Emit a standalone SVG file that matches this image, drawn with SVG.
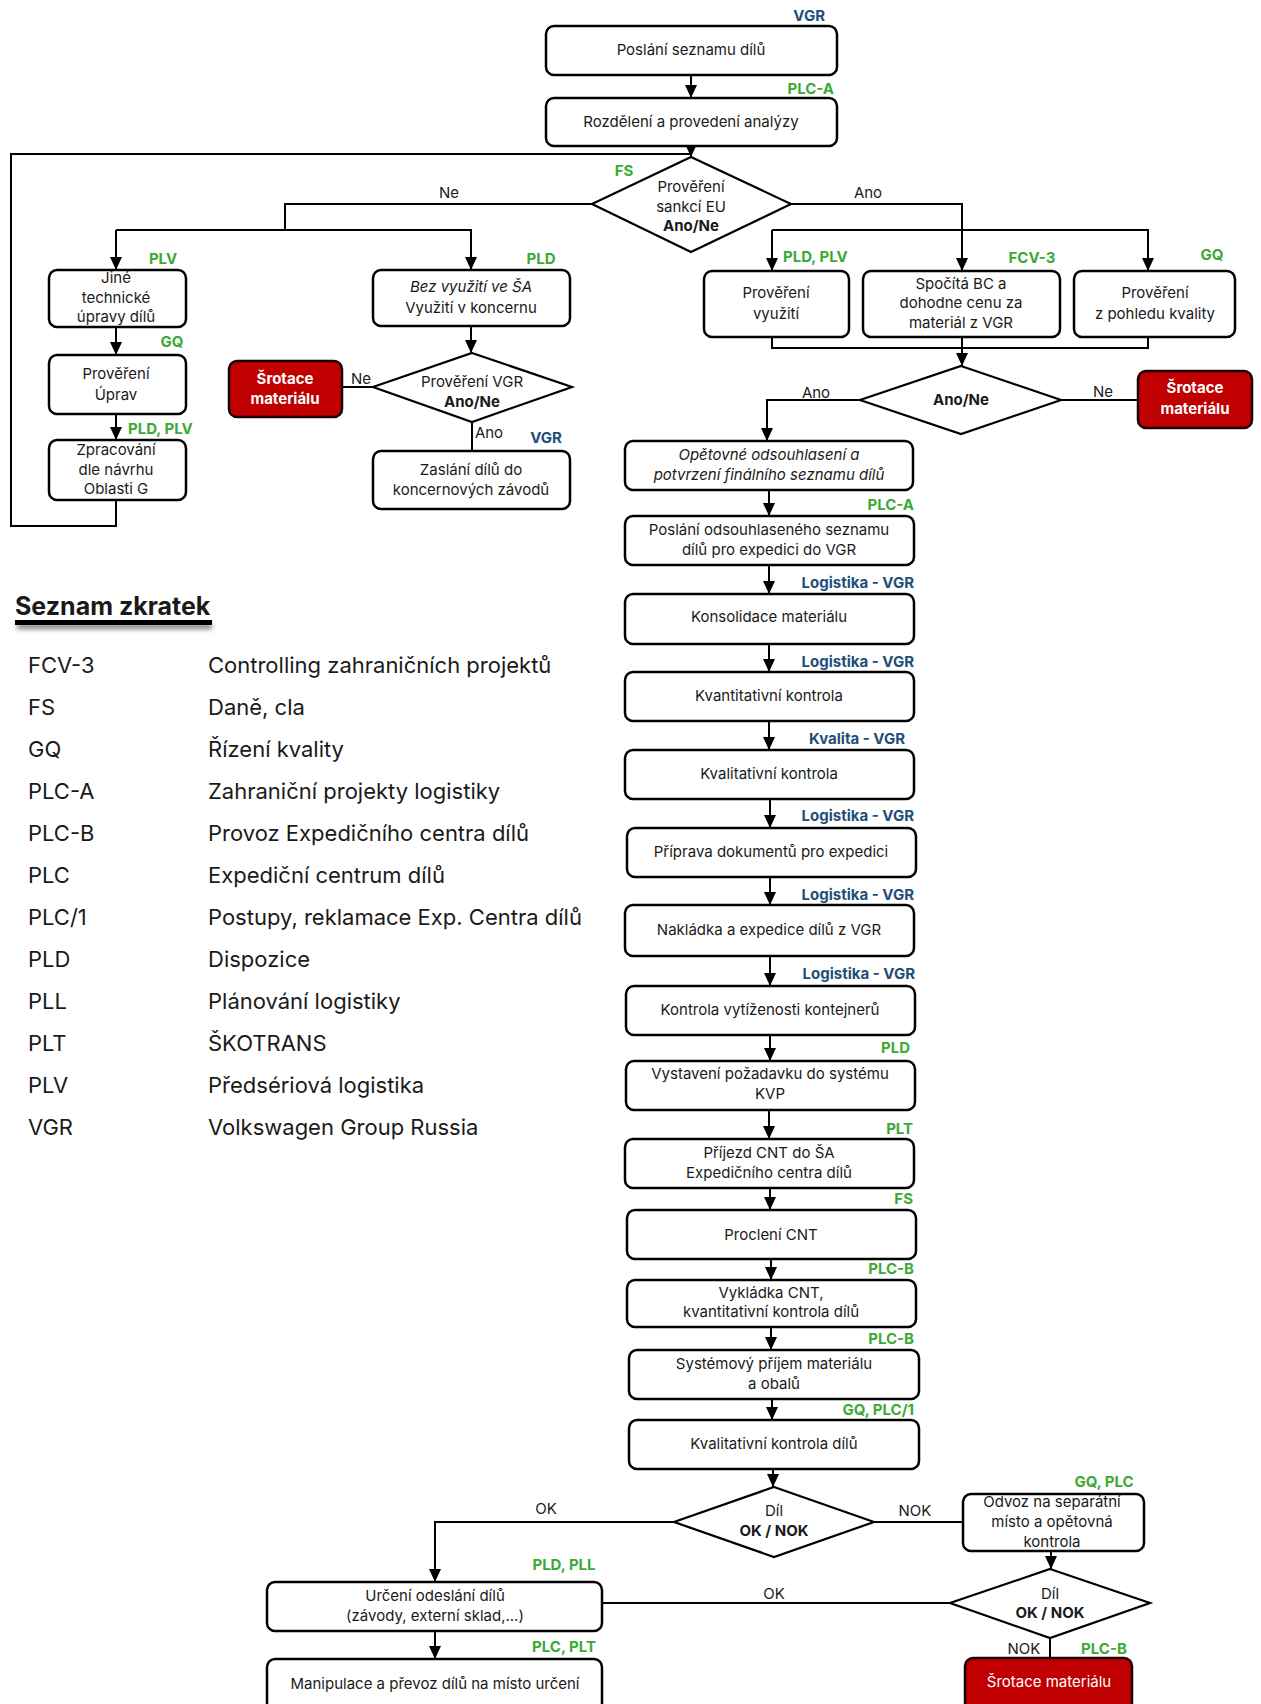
<svg xmlns="http://www.w3.org/2000/svg" width="1261" height="1704" viewBox="0 0 1261 1704">
<style>
text{font-family:Inter,Lato,"Liberation Sans",sans-serif;fill:#1a1a1a}
.t{font-size:15px;text-anchor:middle}
.i{font-style:italic}
.b{font-weight:bold}
.box{fill:#fff;stroke:#000;stroke-width:2.5}
.red{fill:#c00000;stroke:#1a0000;stroke-width:2.5}
.rt{font-size:15px;text-anchor:middle;fill:#fff;font-weight:bold}
.dia{fill:#fff;stroke:#000;stroke-width:2.2}
.g{font-size:15px;font-weight:bold;fill:#3aaa35}
.bl{font-size:15px;font-weight:bold;fill:#1f4e79}
.c{fill:none;stroke:#000;stroke-width:2}
.a{marker-end:url(#ah)}
.cl{font-size:15px;fill:#1a1a1a}
.lg{font-size:22px;fill:#1a1a1a}
</style>
<defs>
<marker id="ah" markerUnits="userSpaceOnUse" markerWidth="14" markerHeight="14" refX="13" refY="6" orient="auto">
<path d="M0,0 L13,6 L0,12 z" fill="#000"/>
</marker>
<filter id="sh" x="-10%" y="-200%" width="120%" height="500%"><feGaussianBlur stdDeviation="2.5"/></filter>
</defs>
<rect width="1261" height="1704" fill="#fff"/>

<g id="connectors">
<line class="c a" x1="691" y1="75" x2="691" y2="98"/>
<polyline class="c a" points="691,146 691,157"/>
<polyline class="c" points="116,500 116,526 11,526 11,154 691,154"/>
<polyline class="c" points="592,204 285,204 285,230"/>
<polyline class="c a" points="116,230 471,230 471,270"/>
<polyline class="c a" points="116,230 116,270"/>
<line class="c a" x1="116" y1="327" x2="116" y2="355"/>
<line class="c a" x1="116" y1="414" x2="116" y2="440"/>
<line class="c a" x1="471" y1="326" x2="471" y2="353"/>
<line class="c" x1="373" y1="387" x2="342" y2="387"/>
<line class="c" x1="472" y1="422" x2="472" y2="451"/>
<polyline class="c" points="791,204 962,204 962,230"/>
<polyline class="c a" points="772,230 772,271"/>
<polyline class="c a" points="772,230 1148,230 1148,271"/>
<line class="c a" x1="962" y1="230" x2="962" y2="271"/>
<polyline class="c" points="772,337 772,348 1148,348 1148,337"/>
<line class="c a" x1="962" y1="337" x2="962" y2="366"/>
<polyline class="c a" points="860,400 767,400 767,441"/>
<line class="c" x1="1061" y1="400" x2="1138" y2="400"/>
<line class="c a" x1="769" y1="490" x2="769" y2="516"/>
<line class="c a" x1="769" y1="565" x2="769" y2="594"/>
<line class="c a" x1="769" y1="644" x2="769" y2="672"/>
<line class="c a" x1="769" y1="721" x2="769" y2="750"/>
<line class="c a" x1="770" y1="799" x2="770" y2="828"/>
<line class="c a" x1="770" y1="877" x2="770" y2="905"/>
<line class="c a" x1="770" y1="956" x2="770" y2="986"/>
<line class="c a" x1="770" y1="1035" x2="770" y2="1061"/>
<line class="c a" x1="769" y1="1110" x2="769" y2="1139"/>
<line class="c a" x1="770" y1="1188" x2="770" y2="1210"/>
<line class="c a" x1="771" y1="1259" x2="771" y2="1280"/>
<line class="c a" x1="771" y1="1327" x2="771" y2="1350"/>
<line class="c a" x1="772" y1="1399" x2="772" y2="1420"/>
<line class="c a" x1="773" y1="1469" x2="773" y2="1487"/>
<polyline class="c a" points="674,1522 435,1522 435,1582"/>
<line class="c" x1="874" y1="1522" x2="963" y2="1522"/>
<line class="c a" x1="1051" y1="1551" x2="1051" y2="1569"/>
<line class="c" x1="950" y1="1603" x2="602" y2="1603"/>
<line class="c" x1="1050" y1="1638" x2="1050" y2="1658"/>
<line class="c a" x1="435" y1="1631" x2="435" y2="1659"/>
<text class="cl" x="449" y="198" text-anchor="middle">Ne</text>
<text class="cl" x="868" y="198" text-anchor="middle">Ano</text>
<text class="cl" x="361" y="384" text-anchor="middle">Ne</text>
<text class="cl" x="489" y="438" text-anchor="middle">Ano</text>
<text class="cl" x="816" y="398" text-anchor="middle">Ano</text>
<text class="cl" x="1103" y="397" text-anchor="middle">Ne</text>
<text class="cl" x="546" y="1514" text-anchor="middle">OK</text>
<text class="cl" x="915" y="1516" text-anchor="middle">NOK</text>
<text class="cl" x="774" y="1599" text-anchor="middle">OK</text>
<text class="cl" x="1024" y="1654" text-anchor="middle">NOK</text>
</g>

<g id="n1"><rect class="box" x="546" y="26" width="291" height="49" rx="8"/><text class="t" x="691" y="55">Poslání seznamu dílů</text><text class="bl" x="825" y="21" text-anchor="end">VGR</text></g>
<g id="n2"><rect class="box" x="546" y="98" width="291" height="48" rx="8"/><text class="t" x="691" y="127">Rozdělení a provedení analýzy</text><text class="g" x="834" y="94" text-anchor="end">PLC-A</text></g>
<g id="d1"><polygon class="dia" points="691,157 791,204 691,252 592,204"/><text class="t" x="691" y="192">Prověření</text><text class="t" x="691" y="212">sankcí EU</text><text class="t b" x="691" y="231">Ano/Ne</text><text class="g" x="624" y="176" text-anchor="middle">FS</text></g>

<g id="n3"><rect class="box" x="49" y="270" width="137" height="57" rx="8"/><text class="t" x="116" y="283">Jiné</text><text class="t" x="116" y="303">technické</text><text class="t" x="116" y="322">úpravy dílů</text><text class="g" x="163" y="264" text-anchor="middle">PLV</text></g>
<g id="n4"><rect class="box" x="49" y="355" width="137" height="59" rx="8"/><text class="t" x="116" y="379">Prověření</text><text class="t" x="116" y="400">Úprav</text><text class="g" x="172" y="347" text-anchor="middle">GQ</text></g>
<g id="n5"><rect class="box" x="49" y="440" width="137" height="60" rx="8"/><text class="t" x="116" y="455">Zpracování</text><text class="t" x="116" y="475">dle návrhu</text><text class="t" x="116" y="494">Oblasti G</text><text class="g" x="128" y="434">PLD, PLV</text></g>

<g id="n6"><rect class="box" x="373" y="270" width="197" height="56" rx="8"/><text class="t i" x="471" y="292">Bez využití ve ŠA</text><text class="t" x="471" y="313">Využití v koncernu</text><text class="g" x="541" y="264" text-anchor="middle">PLD</text></g>
<g id="d2"><polygon class="dia" points="472,353 572,387 472,422 373,387"/><text class="t" x="472" y="387">Prověření VGR</text><text class="t b" x="472" y="407">Ano/Ne</text></g>
<g id="r1"><rect class="red" x="229" y="361" width="113" height="56" rx="8"/><text class="rt" x="285" y="384">Šrotace</text><text class="rt" x="285" y="404">materiálu</text></g>
<g id="n7"><rect class="box" x="373" y="451" width="197" height="58" rx="8"/><text class="t" x="471" y="475">Zaslání dílů do</text><text class="t" x="471" y="495">koncernových závodů</text><text class="bl" x="546" y="443" text-anchor="middle">VGR</text></g>

<g id="n8"><rect class="box" x="704" y="271" width="145" height="66" rx="8"/><text class="t" x="776" y="298">Prověření</text><text class="t" x="776" y="319">využití</text><text class="g" x="783" y="262">PLD, PLV</text></g>
<g id="n9"><rect class="box" x="863" y="271" width="197" height="66" rx="8"/><text class="t" x="961" y="289">Spočítá BC a</text><text class="t" x="961" y="308">dohodne cenu za</text><text class="t" x="961" y="328">materiál z VGR</text><text class="g" x="1032" y="263" text-anchor="middle">FCV-3</text></g>
<g id="n10"><rect class="box" x="1074" y="271" width="161" height="66" rx="8"/><text class="t" x="1155" y="298">Prověření</text><text class="t" x="1155" y="319">z pohledu kvality</text><text class="g" x="1212" y="260" text-anchor="middle">GQ</text></g>
<g id="d3"><polygon class="dia" points="961,366 1061,400 961,434 860,400"/><text class="t b" x="961" y="405">Ano/Ne</text></g>
<g id="r2"><rect class="red" x="1138" y="371" width="114" height="57" rx="8"/><text class="rt" x="1195" y="393">Šrotace</text><text class="rt" x="1195" y="414">materiálu</text></g>

<g id="m1"><rect class="box" x="625" y="441" width="288" height="49" rx="8"/><text class="t i" x="769" y="460">Opětovné odsouhlasení a</text><text class="t i" x="769" y="480">potvrzení finálního seznamu dílů</text></g>
<g id="m2"><rect class="box" x="625" y="516" width="289" height="49" rx="8"/><text class="t" x="769" y="535">Poslání odsouhlaseného seznamu</text><text class="t" x="769" y="555">dílů pro expedici do VGR</text><text class="g" x="914" y="510" text-anchor="end">PLC-A</text></g>
<g id="m3"><rect class="box" x="625" y="594" width="289" height="50" rx="8"/><text class="t" x="769" y="622">Konsolidace materiálu</text><text class="bl" x="914" y="588" text-anchor="end">Logistika - VGR</text></g>
<g id="m4"><rect class="box" x="625" y="672" width="289" height="49" rx="8"/><text class="t" x="769" y="701">Kvantitativní kontrola</text><text class="bl" x="914" y="667" text-anchor="end">Logistika - VGR</text></g>
<g id="m5"><rect class="box" x="625" y="750" width="289" height="49" rx="8"/><text class="t" x="769" y="779">Kvalitativní kontrola</text><text class="bl" x="905" y="744" text-anchor="end">Kvalita - VGR</text></g>
<g id="m6"><rect class="box" x="627" y="828" width="289" height="49" rx="8"/><text class="t" x="771" y="857">Příprava dokumentů pro expedici</text><text class="bl" x="914" y="821" text-anchor="end">Logistika - VGR</text></g>
<g id="m7"><rect class="box" x="625" y="905" width="289" height="51" rx="8"/><text class="t" x="769" y="935">Nakládka a expedice dílů z VGR</text><text class="bl" x="914" y="900" text-anchor="end">Logistika - VGR</text></g>
<g id="m8"><rect class="box" x="626" y="986" width="289" height="49" rx="8"/><text class="t" x="770" y="1015">Kontrola vytíženosti kontejnerů</text><text class="bl" x="915" y="979" text-anchor="end">Logistika - VGR</text></g>
<g id="m9"><rect class="box" x="626" y="1061" width="289" height="49" rx="8"/><text class="t" x="770" y="1079">Vystavení požadavku do systému</text><text class="t" x="770" y="1099">KVP</text><text class="g" x="910" y="1053" text-anchor="end">PLD</text></g>
<g id="m10"><rect class="box" x="625" y="1139" width="289" height="49" rx="8"/><text class="t" x="769" y="1158">Příjezd CNT do ŠA</text><text class="t" x="769" y="1178">Expedičního centra dílů</text><text class="g" x="913" y="1134" text-anchor="end">PLT</text></g>
<g id="m11"><rect class="box" x="627" y="1210" width="289" height="49" rx="8"/><text class="t" x="771" y="1240">Proclení CNT</text><text class="g" x="913" y="1204" text-anchor="end">FS</text></g>
<g id="m12"><rect class="box" x="627" y="1280" width="289" height="47" rx="8"/><text class="t" x="771" y="1298">Vykládka CNT,</text><text class="t" x="771" y="1317">kvantitativní kontrola dílů</text><text class="g" x="914" y="1274" text-anchor="end">PLC-B</text></g>
<g id="m13"><rect class="box" x="629" y="1350" width="290" height="49" rx="8"/><text class="t" x="774" y="1369">Systémový příjem materiálu</text><text class="t" x="774" y="1389">a obalů</text><text class="g" x="914" y="1344" text-anchor="end">PLC-B</text></g>
<g id="m14"><rect class="box" x="629" y="1420" width="290" height="49" rx="8"/><text class="t" x="774" y="1449">Kvalitativní kontrola dílů</text><text class="g" x="914" y="1415" text-anchor="end">GQ, PLC/1</text></g>
<g id="d4"><polygon class="dia" points="774,1487 874,1522 774,1557 674,1522"/><text class="t" x="774" y="1516">Díl</text><text class="t b" x="774" y="1536">OK / NOK</text></g>
<g id="n11"><rect class="box" x="963" y="1494" width="181" height="57" rx="8"/><text class="t" x="1052" y="1507">Odvoz na separátní</text><text class="t" x="1052" y="1527">místo a opětovná</text><text class="t" x="1052" y="1547">kontrola</text><text class="g" x="1104" y="1487" text-anchor="middle">GQ, PLC</text></g>
<g id="d5"><polygon class="dia" points="1050,1569 1150,1603 1050,1638 950,1603"/><text class="t" x="1050" y="1599">Díl</text><text class="t b" x="1050" y="1618">OK / NOK</text></g>
<g id="r3"><rect class="red" x="965" y="1658" width="167" height="52" rx="8"/><text class="t" x="1049" y="1687" style="fill:#fff">Šrotace materiálu</text><text class="g" x="1104" y="1654" text-anchor="middle">PLC-B</text></g>
<g id="n12"><rect class="box" x="267" y="1582" width="335" height="49" rx="8"/><text class="t" x="435" y="1601">Určení odeslání dílů</text><text class="t" x="435" y="1621">(závody, externí sklad,...)</text><text class="g" x="564" y="1570" text-anchor="middle">PLD, PLL</text></g>
<g id="n13"><rect class="box" x="267" y="1659" width="335" height="52" rx="8"/><text class="t" x="435" y="1689">Manipulace a převoz dílů na místo určení</text><text class="g" x="564" y="1652" text-anchor="middle">PLC, PLT</text></g>

<g id="legend">
<rect x="17" y="624" width="195" height="5" fill="#777" filter="url(#sh)"/>
<rect x="15" y="620" width="197" height="5" fill="#000"/>
<text x="15" y="615" style="font-size:25px;font-weight:bold">Seznam zkratek</text>
<g class="lg">
<text class="lg" x="28" y="673">FCV-3</text><text class="lg" x="208" y="673">Controlling zahraničních projektů</text>
<text class="lg" x="28" y="715">FS</text><text class="lg" x="208" y="715">Daně, cla</text>
<text class="lg" x="28" y="757">GQ</text><text class="lg" x="208" y="757">Řízení kvality</text>
<text class="lg" x="28" y="799">PLC-A</text><text class="lg" x="208" y="799">Zahraniční projekty logistiky</text>
<text class="lg" x="28" y="841">PLC-B</text><text class="lg" x="208" y="841">Provoz Expedičního centra dílů</text>
<text class="lg" x="28" y="883">PLC</text><text class="lg" x="208" y="883">Expediční centrum dílů</text>
<text class="lg" x="28" y="925">PLC/1</text><text class="lg" x="208" y="925">Postupy, reklamace Exp. Centra dílů</text>
<text class="lg" x="28" y="967">PLD</text><text class="lg" x="208" y="967">Dispozice</text>
<text class="lg" x="28" y="1009">PLL</text><text class="lg" x="208" y="1009">Plánování logistiky</text>
<text class="lg" x="28" y="1051">PLT</text><text class="lg" x="208" y="1051">ŠKOTRANS</text>
<text class="lg" x="28" y="1093">PLV</text><text class="lg" x="208" y="1093">Předsériová logistika</text>
<text class="lg" x="28" y="1135">VGR</text><text class="lg" x="208" y="1135">Volkswagen Group Russia</text>
</g>
</g>
</svg>
